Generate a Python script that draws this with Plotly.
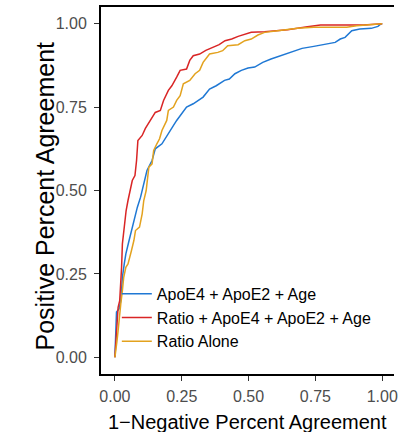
import plotly.graph_objects as go

series_names = ["ApoE4 + ApoE2 + Age", "Ratio + ApoE4 + ApoE2 + Age", "Ratio Alone"]
series_colors = ["#1F78D4", "#D92525", "#E3A21E"]

blue_fpr = [0, 0.002, 0.004, 0.006, 0.016, 0.022, 0.025, 0.028, 0.035, 0.041, 0.053, 0.062, 0.071, 0.084,
            0.096, 0.106, 0.112, 0.12, 0.139, 0.151, 0.176, 0.2, 0.231, 0.268, 0.293, 0.33, 0.354, 0.379,
            0.41, 0.428, 0.449, 0.473, 0.498, 0.523, 0.553, 0.584, 0.621, 0.664, 0.70, 0.744, 0.793,
            0.824, 0.843, 0.861, 0.886, 0.916, 0.959, 0.984, 0.996, 1.0]
blue_tpr = [0, 0.05, 0.09, 0.136, 0.146, 0.17, 0.20, 0.24, 0.28, 0.31, 0.35, 0.38, 0.41, 0.45,
            0.48, 0.51, 0.53, 0.56, 0.59, 0.625, 0.64, 0.67, 0.71, 0.75, 0.76, 0.78, 0.804, 0.814,
            0.83, 0.834, 0.85, 0.86, 0.867, 0.87, 0.884, 0.894, 0.904, 0.914, 0.926, 0.932, 0.939,
            0.944, 0.954, 0.959, 0.979, 0.984, 0.986, 0.992, 1.0, 1.0]

red_fpr = [0, 0.004, 0.008, 0.012, 0.018, 0.022, 0.025, 0.028, 0.033, 0.037, 0.042, 0.049, 0.055, 0.065,
           0.075, 0.081, 0.086, 0.102, 0.114, 0.133, 0.151, 0.17, 0.182, 0.2, 0.213, 0.231, 0.244, 0.268,
           0.28, 0.293, 0.317, 0.34, 0.366, 0.39, 0.412, 0.437, 0.461, 0.486, 0.51, 0.56, 0.646, 0.72,
           0.769, 0.93, 1.0]
red_tpr = [0, 0.06, 0.10, 0.15, 0.17, 0.22, 0.27, 0.34, 0.38, 0.42, 0.44, 0.47, 0.49, 0.53,
           0.545, 0.59, 0.65, 0.665, 0.686, 0.71, 0.734, 0.74, 0.77, 0.80, 0.814, 0.84, 0.86, 0.864,
           0.89, 0.904, 0.909, 0.92, 0.929, 0.937, 0.949, 0.954, 0.962, 0.969, 0.974, 0.976, 0.982, 0.991,
           0.996, 0.996, 1.0]

yellow_fpr = [0, 0.004, 0.008, 0.012, 0.016, 0.022, 0.028, 0.033, 0.041, 0.049, 0.062, 0.071, 0.077, 0.092,
              0.102, 0.108, 0.117, 0.122, 0.127, 0.139, 0.145, 0.157, 0.167, 0.176, 0.194, 0.2, 0.219,
              0.231, 0.244, 0.256, 0.28, 0.30, 0.317, 0.33, 0.354, 0.385, 0.403, 0.422, 0.461, 0.486,
              0.51, 0.535, 0.56, 0.609, 0.683, 0.744, 0.867, 0.904, 1.0]
yellow_tpr = [0, 0.02, 0.05, 0.08, 0.12, 0.16, 0.20, 0.24, 0.27, 0.28, 0.32, 0.35, 0.38, 0.39,
              0.43, 0.47, 0.50, 0.53, 0.57, 0.58, 0.62, 0.64, 0.655, 0.68, 0.71, 0.74, 0.75,
              0.77, 0.784, 0.82, 0.83, 0.85, 0.86, 0.884, 0.909, 0.914, 0.919, 0.934, 0.937, 0.949,
              0.954, 0.966, 0.974, 0.979, 0.986, 0.989, 0.989, 0.994, 1.0]

tick_vals = [0, 0.25, 0.5, 0.75, 1.0]
tick_text = ["0.00", "0.25", "0.50", "0.75", "1.00"]
x_title = "1\u2212Negative Percent Agreement"
y_title = "Positive Percent Agreement"

FONT = "Liberation Sans, Arial, sans-serif"

fig = go.Figure()
for name, color, xs, ys in zip(series_names, series_colors,
                               [blue_fpr, red_fpr, yellow_fpr],
                               [blue_tpr, red_tpr, yellow_tpr]):
    fig.add_trace(go.Scatter(x=xs, y=ys, mode="lines", name=name,
                             line=dict(color=color, width=1.5)))

axis_common = dict(
    showgrid=False, zeroline=False, showline=True, linecolor="black", linewidth=2,
    ticks="outside", ticklen=5, tickwidth=1, tickcolor="#333333",
    tickvals=tick_vals, ticktext=tick_text, ticklabeloverflow="allow",
    tickfont=dict(family=FONT, size=16, color="#4D4D4D"),
)

fig.update_layout(
    width=398, height=432,
    margin=dict(l=101, r=0, t=7, b=58),
    paper_bgcolor="white", plot_bgcolor="white",
    xaxis=dict(range=[-0.052, 1.044], mirror=True, ticklabelstandoff=2, **axis_common),
    yaxis=dict(range=[-0.05, 1.05], mirror=False, ticklabelstandoff=4, **axis_common),
    showlegend=True,
    legend=dict(x=0.054, y=0.265, xanchor="left", yanchor="top", tracegroupgap=0,
                bgcolor="rgba(0,0,0,0)", font=dict(family=FONT, size=16, color="black")),
    annotations=[
        dict(text=x_title, xref="paper", yref="paper", x=0.5, y=0, xanchor="center",
             yanchor="middle", yshift=-48, showarrow=False,
             font=dict(family=FONT, size=20, color="black")),
        dict(text=y_title, xref="paper", yref="paper", x=0, y=0.5, xanchor="center",
             yanchor="middle", xshift=-57, yshift=-6, textangle=-90, showarrow=False,
             font=dict(family=FONT, size=25, color="black")),
    ],
)

fig.write_html("out.html", config={"displayModeBar": False},
               post_script="document.body.style.margin='0';document.body.style.padding='0';")
